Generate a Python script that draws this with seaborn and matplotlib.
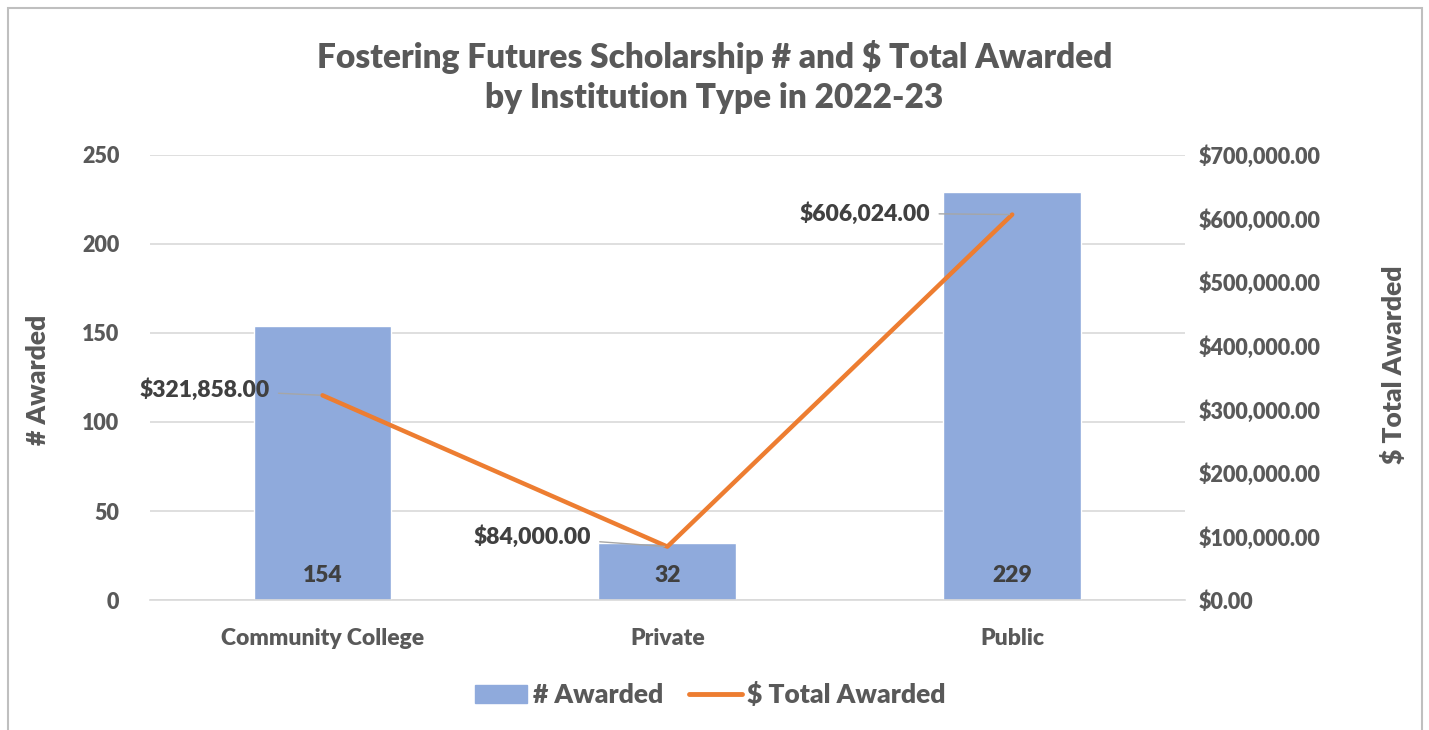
import matplotlib
matplotlib.use("Agg")
import matplotlib.pyplot as plt
import matplotlib.patches as mpatches
from matplotlib.lines import Line2D
from matplotlib.ticker import FuncFormatter, MultipleLocator
import seaborn as sns
import pandas as pd

# data
categories = ['Community College', 'Private', 'Public']
num_awarded = [154, 32, 229]
total_awarded = [321858.00, 84000.00, 606024.00]

df = pd.DataFrame({'type': categories, 'num': num_awarded, 'total': total_awarded})

bar_color = '#8FAADC'
line_color = '#ED7D31'
text_gray = '#595959'
label_dark = '#404040'
grid_gray = '#D9D9D9'

sns.set_theme(style='white')
plt.rcParams['font.family'] = ['Lato', 'DejaVu Sans']
plt.rcParams['font.weight'] = 'heavy'
W = 'heavy'

fig = plt.figure(figsize=(14.29, 7.30), dpi=100)
ax = fig.add_axes([0.105, 0.178, 0.724, 0.610])

sns.barplot(data=df, x='type', y='num', color=bar_color, width=0.4,
            saturation=1, ax=ax, zorder=2)
ax.set_ylim(0, 250)
ax.yaxis.set_major_locator(MultipleLocator(50))
ax.grid(axis='y', color=grid_gray, linewidth=1.2, zorder=0)
ax.set_axisbelow(True)
for s in ['top', 'left', 'right']:
    ax.spines[s].set_visible(False)
ax.spines['bottom'].set_color(grid_gray)
ax.spines['bottom'].set_linewidth(1.2)
ax.tick_params(axis='both', length=0, colors=text_gray, labelsize=15.5)
ax.tick_params(axis='x', pad=20, labelsize=16.5)
ax.tick_params(axis='y', pad=22)
for t in ax.get_xticklabels() + ax.get_yticklabels():
    t.set_fontweight(W)
ax.set_xlabel('')
ax.set_ylabel('# Awarded', fontsize=19, color=text_gray, fontweight=W)
ax.yaxis.set_label_coords(-0.097, 0.494)

# bar value labels near the bar bottoms
for i, v in enumerate(num_awarded):
    ax.annotate(str(v), xy=(i, 0), xytext=(0, 18), textcoords='offset points',
                ha='center', va='center', fontsize=16.5, color=label_dark,
                fontweight=W)

ax2 = ax.twinx()
sns.pointplot(data=df, x='type', y='total', color=line_color, markers='',
              linewidth=3.2, errorbar=None, ax=ax2, zorder=3)
ax2.set_ylim(0, 700000)
ax2.yaxis.set_major_locator(MultipleLocator(100000))
ax2.yaxis.set_major_formatter(FuncFormatter(lambda v, p: '${:,.2f}'.format(v)))
for s in ['top', 'left', 'right', 'bottom']:
    ax2.spines[s].set_visible(False)
ax2.tick_params(axis='y', length=0, colors=text_gray, labelsize=15.5, pad=10)
for t in ax2.get_yticklabels():
    t.set_fontweight(W)
ax2.set_ylabel('$ Total Awarded', fontsize=19, color=text_gray,
               fontweight=W, rotation=90)
ax2.yaxis.set_label_coords(1.19, 0.528)
ax2.set_xlabel('')

# line data labels with leader lines
offsets = [(-38, 4), (-55, 7), (-59, 1)]
for i, v in enumerate(total_awarded):
    ax2.annotate('${:,.2f}'.format(v), xy=(i, v), xytext=offsets[i],
                 textcoords='offset points', ha='right', va='center',
                 fontsize=16.5, color=label_dark, fontweight=W,
                 arrowprops=dict(arrowstyle='-', color='#A6A6A6', lw=1,
                                 shrinkA=4, shrinkB=2))

fig.text(0.5, 0.894,
         'Fostering Futures Scholarship # and $ Total Awarded\nby Institution Type in 2022-23',
         ha='center', va='center', fontsize=24, color=text_gray,
         fontweight=W, linespacing=1.3)

handles = [mpatches.Patch(color=bar_color, label='# Awarded'),
           Line2D([0], [0], color=line_color, lw=3.5, label='$ Total Awarded')]
leg = fig.legend(handles=handles, loc='center', bbox_to_anchor=(0.497, 0.048),
                 ncol=2, frameon=False, labelcolor=text_gray,
                 handlelength=2.0, handletextpad=0.2, columnspacing=1.0,
                 prop={'weight': W, 'size': 19})

fig.patches.append(mpatches.Rectangle((8 / 1429, -0.05), 1414 / 1429, 1.039,
                                      transform=fig.transFigure, fill=False,
                                      edgecolor='#BFBFBF', linewidth=1.5))

fig.savefig('out.png', dpi=100)
